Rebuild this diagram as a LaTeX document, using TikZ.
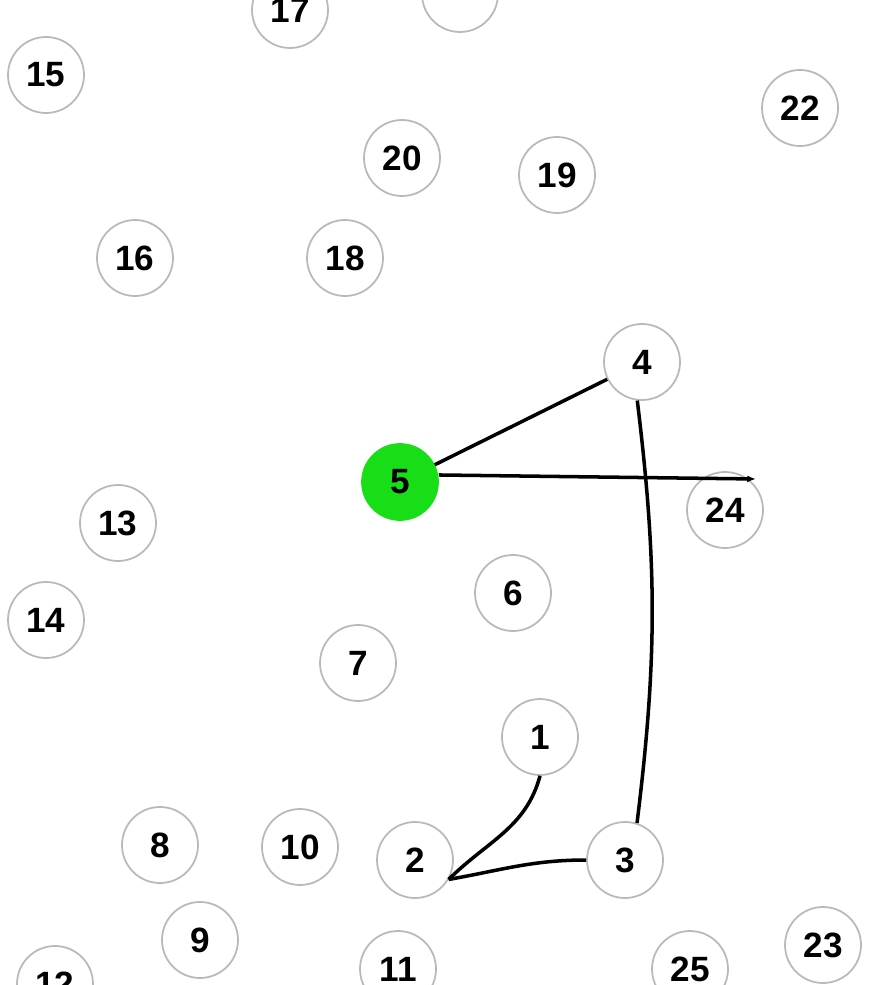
\documentclass[tikz,border=0pt]{standalone}
\usepackage{fontspec}
\setmainfont{Liberation Sans}
\usepackage{tikz}
\usetikzlibrary{arrows.meta}

\definecolor{startgreen}{RGB}{24,222,24}

\begin{document}
\begin{tikzpicture}[
  vertex/.style={
    circle, draw=gray!55, line width=1pt, fill=white,
    minimum size=1.52cm, inner sep=0pt,
    font=\fontsize{20}{23}\selectfont\bfseries
  },
  start/.style={vertex, fill=startgreen, draw=startgreen},
  link/.style={line width=2pt, black},
]

\useasboundingbox (0,0) rectangle (17.4,-19.7);
\clip (0,0) rectangle (17.4,-19.7);

% upper field
\node[vertex] (v17) at (5.8,-0.2) {17};
\node[vertex] (v21) at (9.2,0.12) {};
\node[vertex] (v15) at (0.92,-1.5) {15};
\node[vertex] (v22) at (16.0,-2.16) {22};
\node[vertex] (v20) at (8.04,-3.16) {20};
\node[vertex] (v19) at (11.14,-3.5) {19};
\node[vertex] (v16) at (2.7,-5.16) {16};
\node[vertex] (v18) at (6.9,-5.16) {18};

% middle
\node[vertex] (v4) at (12.84,-7.24) {4};
\node[start]  (v5) at (8.0,-9.64) {5};
\node[vertex] (v13) at (2.36,-10.46) {13};
\node[vertex] (v24) at (14.5,-10.2) {24};
\node[vertex] (v14) at (0.92,-12.4) {14};
\node[vertex] (v6) at (10.26,-11.86) {6};
\node[vertex] (v7) at (7.16,-13.26) {7};
\node[vertex] (v1) at (10.8,-14.74) {1};

% lower field
\node[vertex] (v8) at (3.2,-16.9) {8};
\node[vertex] (v10) at (6.0,-16.94) {10};
\node[vertex] (v2) at (8.3,-17.2) {2};
\node[vertex] (v3) at (12.5,-17.2) {3};
\node[vertex] (v9) at (4.0,-18.8) {9};
\node[vertex] (v23) at (16.46,-18.9) {23};
\node[vertex] (v12) at (1.1,-19.68) {12};
\node[vertex] (v11) at (7.96,-19.38) {11};
\node[vertex] (v25) at (13.8,-19.38) {25};

% route
\draw[link] (v5) -- (v4);
\draw[link, -{Latex[length=5pt,width=4pt]}] ([yshift=4pt]v5.east) -- ([xshift=2pt,yshift=2pt]v24.north east);
\draw[link] (v4.-97) to[bend left=7] (v3.72);
\draw[link] (v1.south) to[out=-105,in=45] (v2.-30);
\draw[link] (v3.west) to[out=180,in=10] (v2.-30);

\end{tikzpicture}
\end{document}
